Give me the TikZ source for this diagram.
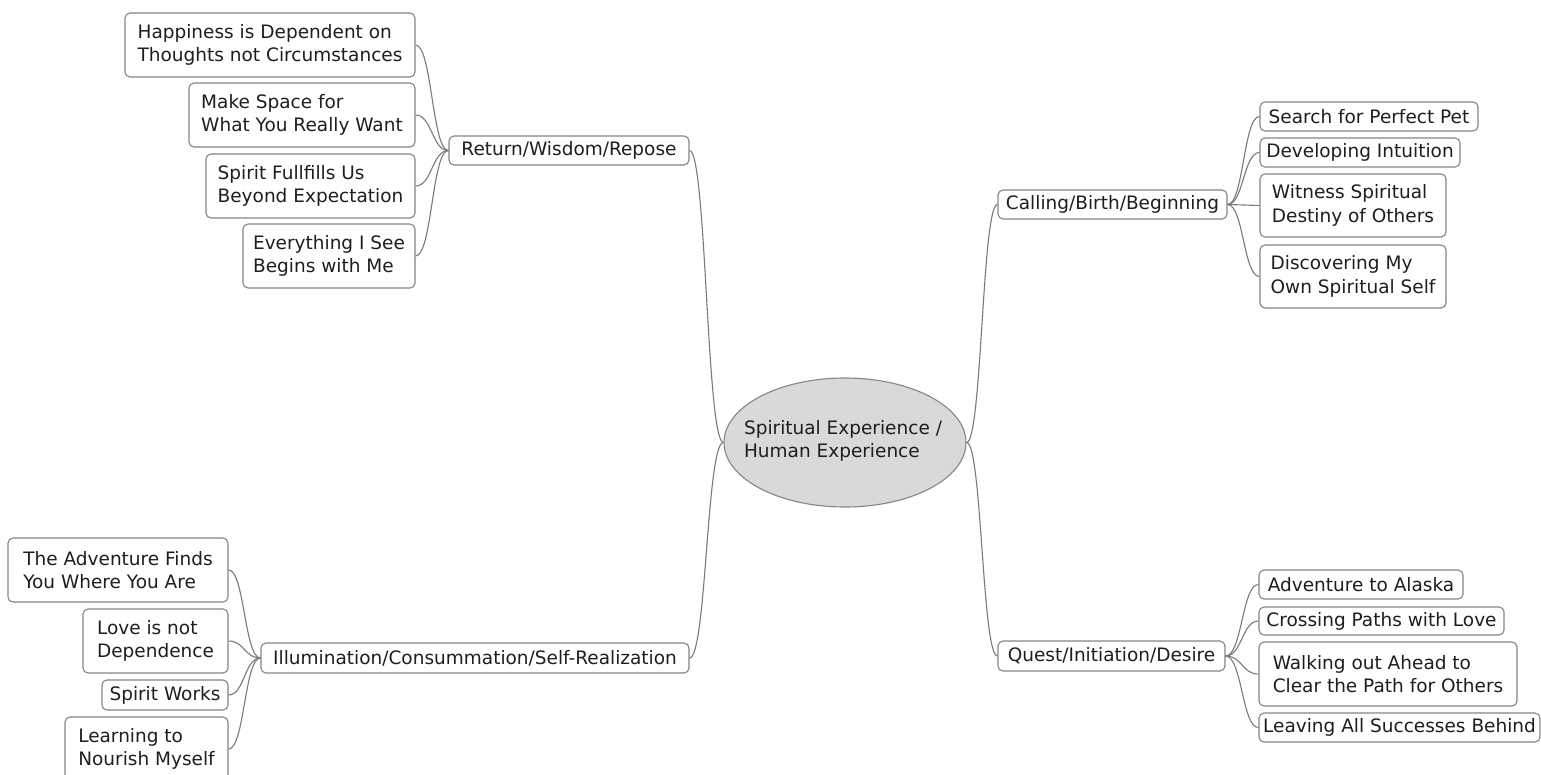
\documentclass[tikz,border=0pt]{standalone}
\usepackage{fontspec}
\setmainfont{DejaVu Sans}
\usetikzlibrary{shapes.geometric,calc}
\definecolor{boxc}{HTML}{858585}
\definecolor{linec}{HTML}{7A7A7A}
\definecolor{txt}{HTML}{1E1E1E}
\definecolor{ellfill}{HTML}{D9D9D9}
\tikzset{
  box/.style={draw=boxc, rounded corners=5pt, line width=1.1pt, inner sep=0pt,
    align=left, text=txt, font=\fontsize{18.5}{23.5}\selectfont},
  hub/.style={ellipse, draw=boxc, fill=ellfill, line width=1.1pt, inner sep=0pt},
  hubtext/.style={align=left, text=txt, inner sep=0pt, font=\fontsize{18.5}{23.5}\selectfont},
  conn/.style={draw=linec, line width=1.1pt}
}
\newcommand{\lconn}[2]{% parent on right (#1), child on left (#2)
  \draw[conn] let \p1=(#1.west), \p2=(#2.east) in
    (\p1) .. controls ({(\x1+\x2)/2},\y1) and ({(\x1+\x2)/2},\y2) .. (\p2);}
\newcommand{\rconn}[2]{% parent on left (#1), child on right (#2)
  \draw[conn] let \p1=(#1.east), \p2=(#2.west) in
    (\p1) .. controls ({(\x1+\x2)/2},\y1) and ({(\x1+\x2)/2},\y2) .. (\p2);}
\begin{document}
\begin{tikzpicture}[x=1pt,y=-1pt]
\useasboundingbox (0,0) rectangle (1541,774);
\clip (0,0) rectangle (1541,774);
\fill[white] (0,0) rectangle (1541,774);

% hub
\node[hub, minimum width=242pt, minimum height=129pt] (hub) at (845,442.5) {};
\node[hubtext] (hubt) at (843,441) {Spiritual Experience /\\Human Experience};

% main branches
\node[box, minimum width=240pt, minimum height=29pt] (ret) at (569,150.5) {Return/Wisdom/Repose};
\node[box, minimum width=229pt, minimum height=29pt] (cal) at (1112.5,204.5) {Calling/Birth/Beginning};
\node[box, minimum width=227pt, minimum height=30pt] (que) at (1111.5,656) {Quest/Initiation/Desire};
\node[box, minimum width=428pt, minimum height=30pt] (ill) at (475,658) {Illumination/Consummation/Self-Realization};

% Return children
\node[box, minimum width=290pt, minimum height=64pt] (r1) at (270,45) {Happiness is Dependent on\\Thoughts not Circumstances};
\node[box, minimum width=226pt, minimum height=64pt] (r2) at (302,115) {Make Space for\\What You Really Want};
\node[box, minimum width=209pt, minimum height=64pt] (r3) at (310.5,186) {Spirit Fullfills Us\\Beyond Expectation};
\node[box, minimum width=172pt, minimum height=64pt] (r4) at (329,256) {Everything I See\\Begins with Me};

% Calling children
\node[box, minimum width=218pt, minimum height=29pt] (c1) at (1369,116.5) {Search for Perfect Pet};
\node[box, minimum width=200pt, minimum height=29pt] (c2) at (1360,152.5) {Developing Intuition};
\node[box, minimum width=186pt, minimum height=63pt] (c3) at (1353,205.5) {Witness Spiritual\\Destiny of Others};
\node[box, minimum width=186pt, minimum height=63pt] (c4) at (1353,276.5) {Discovering My\\Own Spiritual Self};

% Quest children
\node[box, minimum width=204pt, minimum height=29pt] (q1) at (1361,584.5) {Adventure to Alaska};
\node[box, minimum width=245pt, minimum height=28pt] (q2) at (1381.5,621) {Crossing Paths with Love};
\node[box, minimum width=258pt, minimum height=64pt] (q3) at (1388,674) {Walking out Ahead to\\Clear the Path for Others};
\node[box, minimum width=281pt, minimum height=29pt] (q4) at (1399.5,727.5) {Leaving All Successes Behind};

% Illumination children
\node[box, minimum width=220pt, minimum height=64pt] (i1) at (118,570) {The Adventure Finds\\You Where You Are};
\node[box, minimum width=145pt, minimum height=64pt] (i2) at (155.5,641) {Love is not\\Dependence};
\node[box, minimum width=126pt, minimum height=30pt] (i3) at (165,695) {Spirit Works};
\node[box, minimum width=163pt, minimum height=64pt] (i4) at (146.5,749) {Learning to\\Nourish Myself};

% connectors hub -> branches
\lconn{hub}{ret}
\lconn{hub}{ill}
\rconn{hub}{cal}
\rconn{hub}{que}

% branch -> children
\foreach \c in {r1,r2,r3,r4} {\lconn{ret}{\c}}
\foreach \c in {i1,i2,i3,i4} {\lconn{ill}{\c}}
\foreach \c in {c1,c2,c3,c4} {\rconn{cal}{\c}}
\foreach \c in {q1,q2,q3,q4} {\rconn{que}{\c}}
\end{tikzpicture}
\end{document}
